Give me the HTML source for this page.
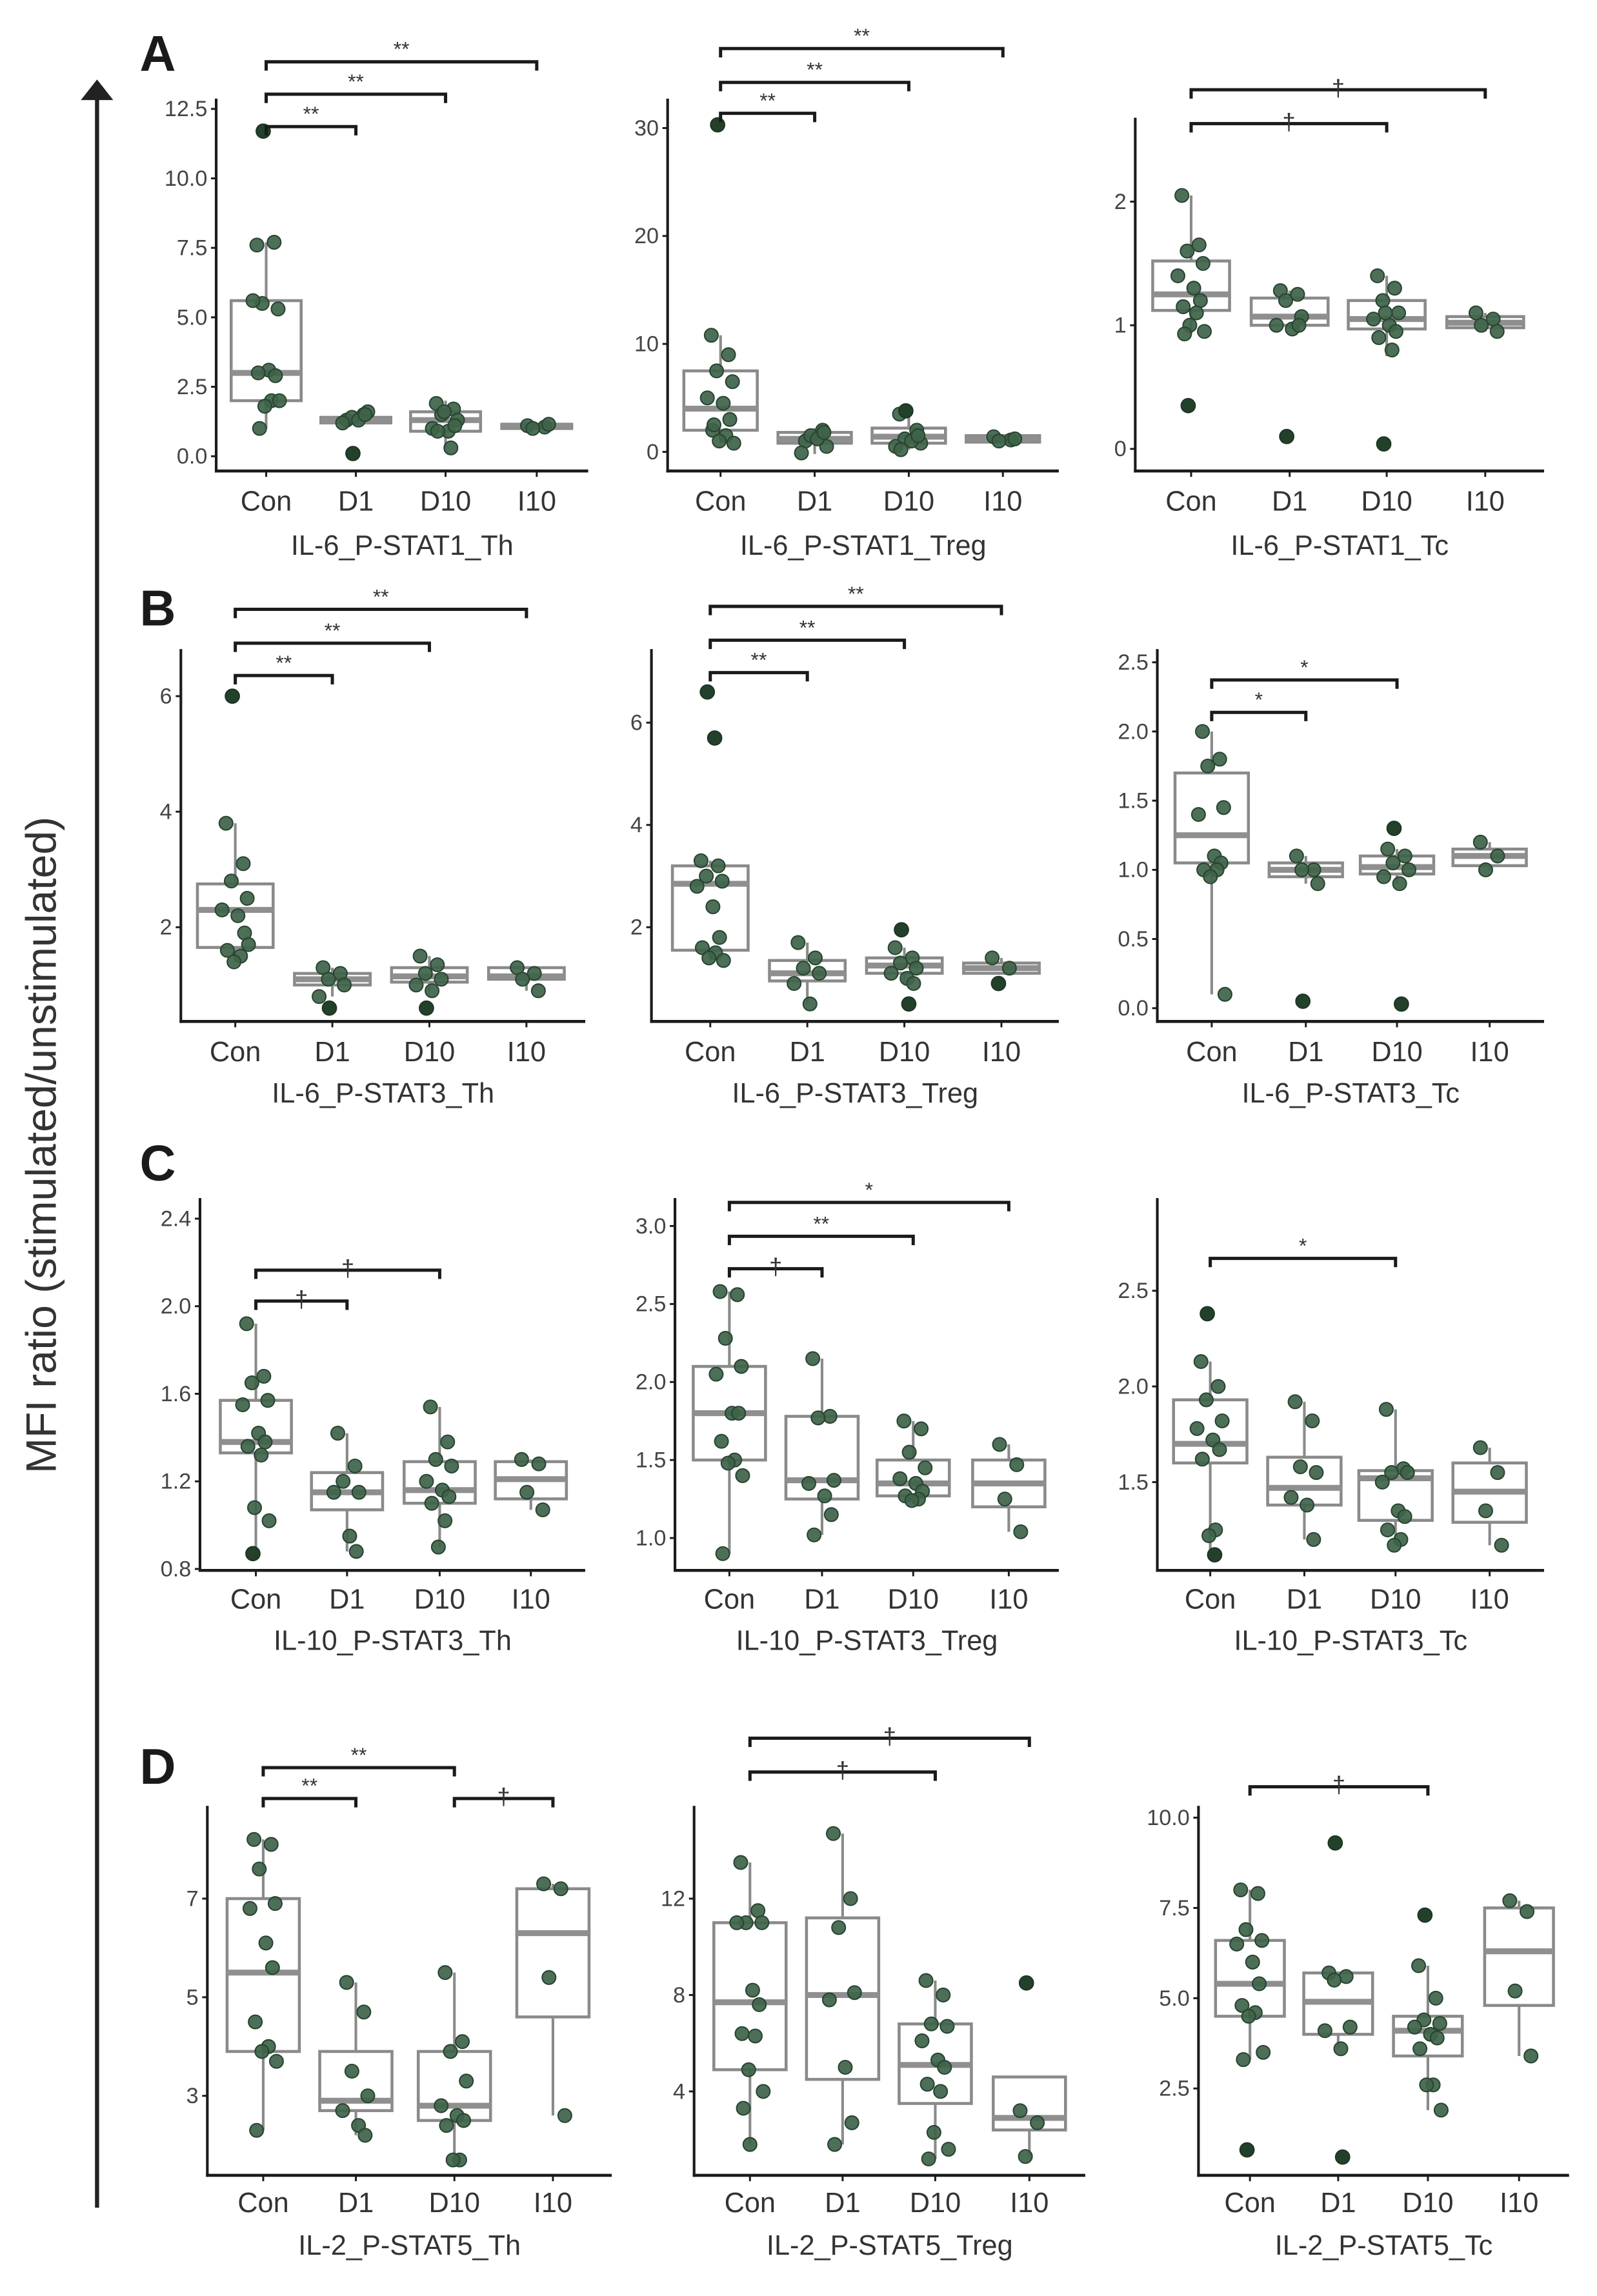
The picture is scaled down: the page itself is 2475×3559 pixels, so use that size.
<!DOCTYPE html>
<html><head><meta charset="utf-8"><style>
html,body{margin:0;padding:0;background:#fff;}
svg{display:block;font-family:"Liberation Sans",Arial,sans-serif;}
</style></head><body>
<svg id="fig" width="2475" height="3559" viewBox="0 0 1086 1560" preserveAspectRatio="none" xmlns="http://www.w3.org/2000/svg">
<g>
<line x1="66" y1="66" x2="66" y2="1500" stroke="#222" stroke-width="2.8"/>
<polygon points="55,68 66,54 77,68" fill="#222"/>
</g>
<text transform="translate(38,778) rotate(-90)" text-anchor="middle" font-size="29" fill="#333">MFI ratio (stimulated/unstimulated)</text>
<text x="95" y="48" font-size="34" font-weight="bold" fill="#1a1a1a">A</text>
<text x="95" y="425" font-size="34" font-weight="bold" fill="#1a1a1a">B</text>
<text x="95" y="802" font-size="34" font-weight="bold" fill="#1a1a1a">C</text>
<text x="95" y="1212" font-size="34" font-weight="bold" fill="#1a1a1a">D</text>
</svg>
<script>
const categories = ["Con","D1","D10","I10"];

// Box stats per panel: [lo, q1, med, q3, hi] for each category
const A1_box = [[1.0,2.0,3.0,5.6,7.7],[1.2,1.2,1.3,1.4,1.6],[0.3,0.9,1.3,1.6,2.0],[1.0,1.0,1.1,1.15,1.2]];
const A1_pts = [[7.6,7.7,5.5,5.3,5.6,3.1,2.9,3.0,2.0,1.8,2.0,1.0],[1.3,1.5,1.4,1.6,1.2,1.3,1.5],[1.9,1.7,1.5,1.3,1.0,0.9,1.1,0.9,0.3,1.6],[1.1,1.05,1.0,1.15]];
const A1_out = [[11.7],[0.1],[],[]];
const A1_ticks = ["0.0","2.5","5.0","7.5","10.0","12.5"];
const A1_tickVals = [0,2.5,5,7.5,10,12.5];

const A2_box = [[0.8,2.0,4.0,7.5,10.8],[-0.2,0.8,1.2,1.8,2.2],[0.2,0.8,1.4,2.2,3.5],[0.9,0.9,1.2,1.5,1.5]];
const A2_pts = [[10.8,9.0,7.5,6.5,5.0,4.5,3.0,2.0,1.5,1.0,0.8,2.5],[1.0,2.0,1.5,0.5,-0.1,1.2,1.8],[3.5,2.0,1.2,0.8,0.5,1.0,1.5,0.2],[1.4,1.1,1.0,1.2]];
const A2_out = [[30.3],[],[3.8],[]];
const A2_ticks = ["0","10","20","30"];
const A2_tickVals = [0,10,20,30];

const A3_box = [[0.93,1.12,1.25,1.52,2.05],[0.97,1.0,1.07,1.22,1.28],[0.75,0.97,1.05,1.2,1.4],[0.95,0.98,1.02,1.07,1.1]];
const A3_pts = [[2.05,1.65,1.6,1.5,1.4,1.3,1.2,1.15,1.1,1.0,0.95,0.93],[1.28,1.25,1.2,1.07,1.0,0.97,1.0],[1.4,1.3,1.2,1.1,1.05,1.0,0.95,0.9,0.8,1.1],[1.1,1.05,1.0,0.95]];
const A3_out = [[0.35],[0.1],[0.04],[]];
const A3_ticks = ["0","1","2"];
const A3_tickVals = [0,1,2];

const B1_box = [[1.4,1.65,2.3,2.75,3.8],[0.8,1.0,1.1,1.2,1.3],[0.9,1.05,1.15,1.3,1.5],[0.9,1.1,1.15,1.3,1.3]];
const B1_pts = [[3.8,3.1,2.8,2.5,2.3,2.2,1.9,1.6,1.5,1.4,1.7],[1.3,1.2,1.1,1.0,0.8],[1.5,1.35,1.2,1.1,1.0,0.9],[1.3,1.2,1.1,0.9]];
const B1_out = [[6.0],[0.6],[0.6],[]];
const B1_ticks = ["2","4","6"];
const B1_tickVals = [2,4,6];

const B2_box = [[1.35,1.55,2.85,3.2,3.3],[0.5,0.95,1.1,1.35,1.7],[0.9,1.1,1.25,1.4,1.6],[1.1,1.1,1.2,1.3,1.4]];
const B2_pts = [[3.3,3.2,3.0,2.9,2.8,2.4,1.8,1.6,1.5,1.4,1.35],[1.7,1.4,1.2,1.1,0.9,0.5],[1.6,1.4,1.3,1.2,1.1,1.0,0.9],[1.4,1.2]];
const B2_out = [[6.6,5.7],[],[1.95,0.5],[0.9]];
const B2_ticks = ["2","4","6"];
const B2_tickVals = [2,4,6];

const B3_box = [[0.1,1.05,1.25,1.7,2.0],[0.9,0.95,1.0,1.05,1.1],[0.9,0.97,1.02,1.1,1.15],[1.0,1.03,1.1,1.15,1.2]];
const B3_pts = [[2.0,1.8,1.75,1.45,1.4,1.1,1.05,1.0,1.0,0.95,0.1],[1.1,1.0,1.0,0.9],[1.15,1.1,1.05,1.0,0.95,0.9],[1.2,1.1,1.0]];
const B3_out = [[],[0.05],[1.3,0.03],[]];
const B3_ticks = ["0.0","0.5","1.0","1.5","2.0","2.5"];
const B3_tickVals = [0,0.5,1,1.5,2,2.5];

const C1_box = [[0.87,1.33,1.38,1.57,1.92],[0.88,1.07,1.15,1.24,1.42],[0.9,1.1,1.16,1.29,1.54],[1.07,1.12,1.21,1.29,1.3]];
const C1_pts = [[1.92,1.68,1.65,1.57,1.55,1.42,1.38,1.36,1.32,1.08,1.02],[1.42,1.27,1.2,1.15,1.15,0.95,0.88],[1.54,1.38,1.3,1.27,1.2,1.16,1.13,1.1,1.02,0.9],[1.3,1.28,1.15,1.07]];
const C1_out = [[0.87],[],[],[]];
const C1_ticks = ["0.8","1.2","1.6","2.0","2.4"];
const C1_tickVals = [0.8,1.2,1.6,2.0,2.4];

const C2_box = [[0.9,1.5,1.8,2.1,2.58],[1.02,1.25,1.37,1.78,2.15],[1.24,1.27,1.35,1.5,1.75],[1.04,1.2,1.35,1.5,1.6]];
const C2_pts = [[2.58,2.56,2.28,2.1,2.05,1.8,1.8,1.62,1.5,1.48,1.4,0.9],[2.15,1.78,1.77,1.37,1.35,1.27,1.15,1.02],[1.75,1.7,1.55,1.45,1.38,1.35,1.3,1.27,1.25,1.24],[1.6,1.47,1.25,1.04]];
const C2_out = [[],[],[],[]];
const C2_ticks = ["1.0","1.5","2.0","2.5","3.0"];
const C2_tickVals = [1.0,1.5,2.0,2.5,3.0];

const C3_box = [[1.12,1.6,1.7,1.93,2.13],[1.2,1.38,1.47,1.63,1.92],[1.17,1.3,1.52,1.56,1.88],[1.17,1.29,1.45,1.6,1.68]];
const C3_pts = [[2.13,2.0,1.93,1.82,1.78,1.72,1.67,1.62,1.25,1.22],[1.92,1.82,1.58,1.55,1.42,1.38,1.2],[1.88,1.57,1.55,1.55,1.5,1.35,1.32,1.25,1.2,1.17],[1.68,1.55,1.35,1.17]];
const C3_out = [[2.38,1.12],[],[],[]];
const C3_ticks = ["1.5","2.0","2.5"];
const C3_tickVals = [1.5,2.0,2.5];

const D1_box = [[2.3,3.9,5.5,7.0,8.2],[2.2,2.7,2.9,3.9,5.3],[1.7,2.5,2.8,3.9,5.5],[2.6,4.6,6.3,7.2,7.3]];
const D1_pts = [[8.2,8.1,7.6,6.9,6.8,6.1,5.6,4.5,4.0,3.9,3.7,2.3],[5.3,4.7,3.5,3.0,2.7,2.4,2.2],[5.5,4.1,3.9,3.3,2.8,2.6,2.5,2.4,1.7,1.7],[7.3,7.2,5.4,2.6]];
const D1_out = [[],[],[],[]];
const D1_ticks = ["3","5","7"];
const D1_tickVals = [3,5,7];

const D2_box = [[1.8,4.9,7.7,11.0,13.5],[1.8,4.5,8.0,11.2,14.7],[1.2,3.5,5.1,6.8,8.6],[1.3,2.4,2.9,4.6,4.6]];
const D2_pts = [[13.5,11.5,11.0,11.0,11.0,8.2,7.6,6.4,6.3,4.9,4.0,3.3,1.8],[14.7,12.0,10.8,8.1,7.8,5.0,2.7,1.8],[8.6,8.0,6.8,6.7,6.1,5.3,5.0,4.3,4.0,2.3,1.6,1.2],[3.2,2.7,1.3]];
const D2_out = [[],[],[],[8.5]];
const D2_ticks = ["4","8","12"];
const D2_tickVals = [4,8,12];

const D3_box = [[3.3,4.5,5.4,6.6,8.0],[3.6,4.0,4.9,5.7,5.7],[1.9,3.4,4.1,4.5,5.9],[3.4,4.8,6.3,7.5,7.7]];
const D3_pts = [[8.0,7.9,6.9,6.6,6.5,6.0,5.4,4.8,4.6,4.5,3.5,3.3],[5.7,5.6,5.5,4.2,4.1,3.6],[5.9,5.0,4.4,4.3,4.2,4.0,3.9,3.6,2.6,2.6,1.9],[7.7,7.4,5.2,3.4]];
const D3_out = [[0.8],[9.3,0.6],[7.3],[]];
const D3_ticks = ["2.5","5.0","7.5","10.0"];
const D3_tickVals = [2.5,5,7.5,10];

// significance brackets: [fromCat, toCat, label]
const A1_sig = [[0,3,"**"],[0,2,"**"],[0,1,"**"]];
const A2_sig = [[0,3,"**"],[0,2,"**"],[0,1,"**"]];
const A3_sig = [[0,3,"†"],[0,2,"†"]];
const B1_sig = [[0,3,"**"],[0,2,"**"],[0,1,"**"]];
const B2_sig = [[0,3,"**"],[0,2,"**"],[0,1,"**"]];
const B3_sig = [[0,2,"*"],[0,1,"*"]];
const C1_sig = [[0,2,"†"],[0,1,"†"]];
const C2_sig = [[0,3,"*"],[0,2,"**"],[0,1,"†"]];
const C3_sig = [[0,2,"*"]];
const D1_sig = [[0,2,"**"],[0,1,"**"],[2,3,"†"]];
const D2_sig = [[0,3,"†"],[0,2,"†"]];
const D3_sig = [[0,2,"†"]];

// layout (pixel geometry in viewBox units)
const panels = [
 {id:"a1",title:"IL-6_P-STAT1_Th",box:A1_box,pts:A1_pts,out:A1_out,ticks:A1_ticks,tv:A1_tickVals,sig:A1_sig,sigY:[42,64,86],x0:147,x1:400,top:67,ax:320,cats:[181,242,303,365],v0:0,p0:310,v1:12.5,p1:74,cy:347,ty:377},
 {id:"a2",title:"IL-6_P-STAT1_Treg",box:A2_box,pts:A2_pts,out:A2_out,ticks:A2_ticks,tv:A2_tickVals,sig:A2_sig,sigY:[33,56,77],x0:454,x1:720,top:67,ax:320,cats:[490,554,618,682],v0:0,p0:307,v1:30,p1:87,cy:347,ty:377},
 {id:"a3",title:"IL-6_P-STAT1_Tc",box:A3_box,pts:A3_pts,out:A3_out,ticks:A3_ticks,tv:A3_tickVals,sig:A3_sig,sigY:[61,84],x0:772,x1:1050,top:80,ax:320,cats:[810,877,943,1010],v0:0,p0:305,v1:2,p1:137,cy:347,ty:377},
 {id:"b1",title:"IL-6_P-STAT3_Th",box:B1_box,pts:B1_pts,out:B1_out,ticks:B1_ticks,tv:B1_tickVals,sig:B1_sig,sigY:[414,437,459],x0:123,x1:398,top:441,ax:694,cats:[160,226,292,358],v0:2,p0:630,v1:6,p1:473,cy:721,ty:749},
 {id:"b2",title:"IL-6_P-STAT3_Treg",box:B2_box,pts:B2_pts,out:B2_out,ticks:B2_ticks,tv:B2_tickVals,sig:B2_sig,sigY:[412,435,457],x0:443,x1:720,top:441,ax:694,cats:[483,549,615,681],v0:2,p0:630,v1:6,p1:491,cy:721,ty:749},
 {id:"b3",title:"IL-6_P-STAT3_Tc",box:B3_box,pts:B3_pts,out:B3_out,ticks:B3_ticks,tv:B3_tickVals,sig:B3_sig,sigY:[462,484],x0:787,x1:1050,top:441,ax:694,cats:[824,888,950,1013],v0:0,p0:685,v1:2.5,p1:450,cy:721,ty:749},
 {id:"c1",title:"IL-10_P-STAT3_Th",box:C1_box,pts:C1_pts,out:C1_out,ticks:C1_ticks,tv:C1_tickVals,sig:C1_sig,sigY:[863,884],x0:136,x1:398,top:814,ax:1067,cats:[174,236,299,361],v0:0.8,p0:1066,v1:2.4,p1:828,cy:1093,ty:1121},
 {id:"c2",title:"IL-10_P-STAT3_Treg",box:C2_box,pts:C2_pts,out:C2_out,ticks:C2_ticks,tv:C2_tickVals,sig:C2_sig,sigY:[817,840,862],x0:459,x1:720,top:814,ax:1067,cats:[496,559,621,686],v0:1.0,p0:1045,v1:3.0,p1:833,cy:1093,ty:1121},
 {id:"c3",title:"IL-10_P-STAT3_Tc",box:C3_box,pts:C3_pts,out:C3_out,ticks:C3_ticks,tv:C3_tickVals,sig:C3_sig,sigY:[855],x0:787,x1:1050,top:814,ax:1067,cats:[823,887,949,1013],v0:1.5,p0:1007,v1:2.5,p1:877,cy:1093,ty:1121},
 {id:"d1",title:"IL-2_P-STAT5_Th",box:D1_box,pts:D1_pts,out:D1_out,ticks:D1_ticks,tv:D1_tickVals,sig:D1_sig,sigY:[1201,1222,1222],x0:141,x1:416,top:1227,ax:1478,cats:[179,242,309,376],v0:3,p0:1424,v1:7,p1:1290,cy:1503,ty:1532},
 {id:"d2",title:"IL-2_P-STAT5_Treg",box:D2_box,pts:D2_pts,out:D2_out,ticks:D2_ticks,tv:D2_tickVals,sig:D2_sig,sigY:[1181,1204],x0:472,x1:738,top:1227,ax:1478,cats:[510,573,636,700],v0:4,p0:1421,v1:12,p1:1290,cy:1503,ty:1532},
 {id:"d3",title:"IL-2_P-STAT5_Tc",box:D3_box,pts:D3_pts,out:D3_out,ticks:D3_ticks,tv:D3_tickVals,sig:D3_sig,sigY:[1214],x0:815,x1:1067,top:1227,ax:1478,cats:[850,910,971,1033],v0:2.5,p0:1419,v1:10,p1:1235,cy:1503,ty:1532}
];
const jitter = [-7,6,-3,9,-10,2,7,-6,4,-1,10,-5,0];
const NS = "http://www.w3.org/2000/svg";
const svg = document.getElementById("fig");
function mk(tag, attrs, parent){
  const e = document.createElementNS(NS, tag);
  for (const k in attrs) e.setAttribute(k, attrs[k]);
  parent.appendChild(e);
  return e;
}
panels.forEach(p=>{
  const yS = v => p.p0 + (v - p.v0) * (p.p1 - p.p0) / (p.v1 - p.v0);
  const g = mk("g", {}, svg);
  
  
  const ya = mk("line", {x1:p.x0,y1:p.top,x2:p.x0,y2:p.ax+1,stroke:"#1a1a1a","stroke-width":1.8}, g);
  
  
  const xa = mk("line", {x1:p.x0-0.9,y1:p.ax,x2:p.x1,y2:p.ax,stroke:"#1a1a1a","stroke-width":2}, g);
  
  
  p.tv.forEach((v,i)=>{
    const y = yS(v);
    mk("line", {x1:p.x0-3.5,y1:y,x2:p.x0,y2:y,stroke:"#1a1a1a","stroke-width":1.3}, g);
    const t = mk("text", {x:p.x0-6,y:y+5,"text-anchor":"end","font-size":15,fill:"#444"}, g);
    t.textContent = p.ticks[i];
    
    
  });
  categories.forEach((c,i)=>{
    const x = p.cats[i];
    mk("line", {x1:x,y1:p.ax,x2:x,y2:p.ax+4,stroke:"#1a1a1a","stroke-width":1.3}, g);
    const t = mk("text", {x:x,y:p.cy,"text-anchor":"middle","font-size":19,fill:"#333"}, g);
    t.textContent = c;
    
    
  });
  const tt = mk("text", {x:(p.x0+p.x1)/2,y:p.ty,"text-anchor":"middle","font-size":19,fill:"#333"}, g);
  tt.textContent = p.title;
  
  
  const bw = (p.cats[1]-p.cats[0]) * 0.78;
  p.box.forEach((b,i)=>{
    const x = p.cats[i];
    const bg = mk("g", {}, g);
    
    
    mk("line", {x1:x,y1:yS(b[0]),x2:x,y2:yS(b[1]),stroke:"#8a8a8a","stroke-width":1.8}, bg);
    mk("line", {x1:x,y1:yS(b[3]),x2:x,y2:yS(b[4]),stroke:"#8a8a8a","stroke-width":1.8}, bg);
    mk("rect", {x:x-bw/2,y:yS(b[3]),width:bw,height:Math.max(1,yS(b[1])-yS(b[3])),fill:"#fff",stroke:"#8a8a8a","stroke-width":2}, bg);
    mk("line", {x1:x-bw/2,y1:yS(b[2]),x2:x+bw/2,y2:yS(b[2]),stroke:"#8f8f8f","stroke-width":4}, bg);
  });
  p.pts.forEach((arr,i)=>{
    arr.forEach((v,j)=>{
      const c = mk("circle", {cx:p.cats[i]+jitter[j%jitter.length]*0.9,cy:yS(v),r:4.6,fill:"#3f6349",stroke:"#274430","stroke-width":0.9,"fill-opacity":0.92}, g);
      
      
    });
  });
  p.out.forEach((arr,i)=>{
    arr.forEach((v,j)=>{
      const c = mk("circle", {cx:p.cats[i]+(j%2?3:-2),cy:yS(v),r:4.8,fill:"#22402a",stroke:"#1b3422","stroke-width":0.8}, g);
      
      
    });
  });
  p.sig.forEach((s,k)=>{
    const y = p.sigY[k];
    const xa1 = p.cats[s[0]], xb1 = p.cats[s[1]];
    const sg = mk("g", {}, g);
    
    
    mk("path", {d:`M${xa1},${y+6} V${y} H${xb1} V${y+6}`,fill:"none",stroke:"#1a1a1a","stroke-width":2.2}, sg);
    const t = mk("text", {x:(xa1+xb1)/2,y:s[2]==="†"?y+4:y-4,"text-anchor":"middle","font-size":s[2]==="†"?16:14,fill:"#333"}, sg);
    t.textContent = s[2];
  });
});
</script>
</body></html>
